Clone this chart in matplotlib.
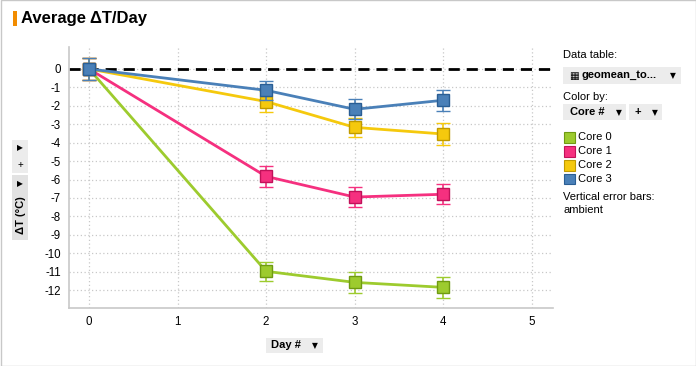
import matplotlib
matplotlib.use("Agg")
import matplotlib.pyplot as plt
from matplotlib.patches import Rectangle

plt.rcParams['font.family'] = ['Liberation Sans', 'DejaVu Sans']
plt.rcParams['axes.unicode_minus'] = False

days = [0, 2, 3, 4]
series_names = ["Core 0", "Core 1", "Core 2", "Core 3"]
core0 = [0.0, -10.98, -11.58, -11.85]
core1 = [0.0, -5.83, -6.95, -6.80]
core2 = [0.0, -1.77, -3.17, -3.53]
core3 = [0.0, -1.16, -2.19, -1.70]
err0 = [0.58, 0.52, 0.55, 0.57]
err1 = [0.58, 0.55, 0.55, 0.54]
err2 = [0.58, 0.58, 0.53, 0.58]
err3 = [0.58, 0.52, 0.55, 0.57]
colors = ["#9dcb2e", "#f5307f", "#f5c90d", "#4a80b8"]
edge_colors = ["#6f9a12", "#c0125a", "#c09a00", "#2a5e94"]
xticks = [0, 1, 2, 3, 4, 5]
yticks = list(range(0, -13, -1))

W, H = 696, 366
fig = plt.figure(figsize=(W / 100, H / 100), dpi=100, facecolor="white")

def fx(px):
    return px / W

def fy(py):
    return 1 - py / H

def rect(x0, y0, x1, y1, fc, ec="none", lw=0):
    fig.patches.append(Rectangle((fx(x0), fy(y1)), fx(x1) - fx(x0), fy(y0) - fy(y1),
                                 transform=fig.transFigure, facecolor=fc, edgecolor=ec,
                                 linewidth=lw, zorder=0))

# outer frame
rect(0.5, 0.5, W - 0.5, H - 0.5, "none", "#c8c8c8", 1)

ax = fig.add_axes([fx(69), fy(308), fx(553) - fx(69), fy(47) - fy(308)])
ax.set_zorder(2)
ax.patch.set_alpha(0)
ax.set_xlim(-0.226, 5.24)
ax.set_ylim(-12.97, 1.19)

ys = [core0, core1, core2, core3]
errs = [err0, err1, err2, err3]
for i in range(4):
    ax.errorbar(days, ys[i], yerr=errs[i], color=colors[i], lw=2.0,
                ecolor=colors[i], elinewidth=1.2, capsize=5, capthick=1.2,
                marker="s", markersize=8, markerfacecolor=colors[i],
                markeredgecolor=edge_colors[i], markeredgewidth=1.0, zorder=3 + i)

ax.axhline(0, color="black", lw=2, ls=(0, (4, 2.5)), zorder=2)

ax.set_xticks(xticks)
ax.set_yticks(yticks)
ax.tick_params(length=0, labelsize=8.3, pad=6, colors="black")
ax.grid(True, color="#c8c8c8", ls=(0, (1, 2)), lw=0.9)
for s in ["top", "right"]:
    ax.spines[s].set_visible(False)
for s in ["left", "bottom"]:
    ax.spines[s].set_color("#c8c8c8")
    ax.spines[s].set_linewidth(1.2)

# title
rect(13, 11, 17, 26, "#f28c00")
fig.text(fx(21), fy(18.5), "Average ΔT/Day", fontsize=12, fontweight="bold", va="center", ha="left")

# y-axis label controls
rect(12, 140, 28, 173, "#ececec")
rect(12, 175, 28, 240, "#e2e2e2")
fig.text(fx(20), fy(148), "▶", fontsize=5.5, ha="center", va="center", family=["DejaVu Sans"])
fig.text(fx(20), fy(165), "+", fontsize=7, ha="center", va="center")
fig.text(fx(20), fy(184), "▶", fontsize=5.5, ha="center", va="center", family=["DejaVu Sans"])
fig.text(fx(20.5), fy(215), "ΔT (°C)", fontsize=8, fontweight="bold", rotation=90,
         ha="center", va="center")

# x-axis label control
rect(266, 338, 323, 353, "#ececec")
fig.text(fx(271), fy(345.5), "Day #", fontsize=8, fontweight="bold", ha="left", va="center")
fig.text(fx(315), fy(346), "▼", fontsize=5.5, ha="center", va="center", family=["DejaVu Sans"])

# right panel
fig.text(fx(563), fy(55), "Data table:", fontsize=8, ha="left", va="center")
rect(563, 67, 681, 84, "#ececec")
fig.text(fx(569), fy(75.5), "▦", fontsize=7.5, ha="left", va="center", family=["DejaVu Sans"])
fig.text(fx(582), fy(75.5), "geomean_to...", fontsize=8, fontweight="bold", ha="left", va="center")
fig.text(fx(673), fy(76), "▼", fontsize=5.5, ha="center", va="center", family=["DejaVu Sans"])
fig.text(fx(563), fy(97), "Color by:", fontsize=8, ha="left", va="center")
rect(563, 104, 626, 120, "#ececec")
fig.text(fx(570), fy(112), "Core #", fontsize=8, fontweight="bold", ha="left", va="center")
fig.text(fx(619), fy(112.5), "▼", fontsize=5.5, ha="center", va="center", family=["DejaVu Sans"])
rect(629, 104, 662, 120, "#ececec")
fig.text(fx(638), fy(112), "+", fontsize=8, fontweight="bold", ha="center", va="center")
fig.text(fx(655), fy(112.5), "▼", fontsize=5.5, ha="center", va="center", family=["DejaVu Sans"])

for i, name in enumerate(series_names):
    yc = 137 + i * 14
    rect(564, yc - 5.5, 575, yc + 5.5, colors[i], edge_colors[i], 0.8)
    fig.text(fx(578), fy(yc), name, fontsize=8, ha="left", va="center")

fig.text(fx(563), fy(197), "Vertical error bars:", fontsize=8, ha="left", va="center")
fig.text(fx(563), fy(210), "ambient", fontsize=8, ha="left", va="center")

fig.savefig("out.png", dpi=100, facecolor="white")
